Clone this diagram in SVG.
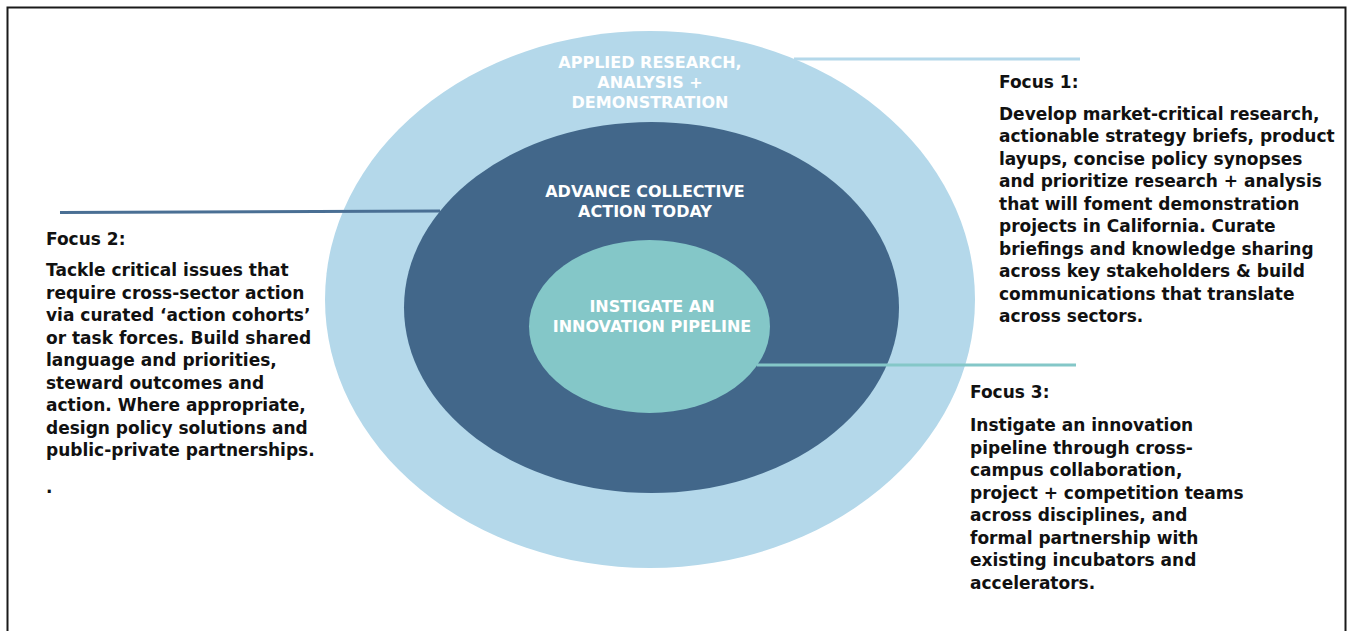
<svg xmlns="http://www.w3.org/2000/svg" width="1352" height="631" viewBox="0 0 1352 631">
<style>
.lbl{font-family:"DejaVu Sans","Liberation Sans",sans-serif;font-weight:bold;font-size:16px;fill:#ffffff;text-anchor:middle}
.body{font-family:"DejaVu Sans","Liberation Sans",sans-serif;font-weight:bold;font-size:17px;fill:#111111}
.conn{fill:none;stroke-width:3}
</style>
<rect width="1352" height="631" fill="#ffffff"/>
<path d="M7.5,640 V7.5 H1345.5 V640" fill="none" stroke="#1a1a1a" stroke-width="2"/>
<g id="outer-ring">
<ellipse cx="650" cy="299.5" rx="325" ry="268.5" fill="#b4d8ea"/>
<text class="lbl" x="650" y="68">APPLIED RESEARCH,</text>
<text class="lbl" x="650" y="88">ANALYSIS +</text>
<text class="lbl" x="650" y="108">DEMONSTRATION</text>
</g>
<g id="middle-ring">
<ellipse cx="651.5" cy="307.5" rx="247.5" ry="185.5" fill="#42678a"/>
<text class="lbl" x="645" y="197">ADVANCE COLLECTIVE</text>
<text class="lbl" x="645" y="217">ACTION TODAY</text>
</g>
<g id="inner-core">
<ellipse cx="649.5" cy="326.5" rx="120.5" ry="86.5" fill="#84c7c8"/>
<text class="lbl" x="652" y="312">INSTIGATE AN</text>
<text class="lbl" x="652" y="332">INNOVATION PIPELINE</text>
</g>
<g id="connectors">
<line class="conn" x1="794" y1="59" x2="1080" y2="59" stroke="#b4d8ea"/>
<line class="conn" x1="60" y1="212.5" x2="440" y2="211" stroke="#4a6f94"/>
<line class="conn" x1="757" y1="365" x2="1076" y2="365" stroke="#84c7c8"/>
</g>
<g id="focus1">
<text class="body" x="999" y="88">Focus 1:</text>
<text class="body" x="999" y="119.5">Develop market-critical research,</text>
<text class="body" x="999" y="142">actionable strategy briefs, product</text>
<text class="body" x="999" y="164.5">layups, concise policy synopses</text>
<text class="body" x="999" y="187">and prioritize research + analysis</text>
<text class="body" x="999" y="209.5">that will foment demonstration</text>
<text class="body" x="999" y="232">projects in California. Curate</text>
<text class="body" x="999" y="254.5">briefings and knowledge sharing</text>
<text class="body" x="999" y="277">across key stakeholders &amp; build</text>
<text class="body" x="999" y="299.5">communications that translate</text>
<text class="body" x="999" y="322">across sectors.</text>
</g>
<g id="focus2">
<text class="body" x="46" y="245">Focus 2:</text>
<text class="body" x="46" y="276">Tackle critical issues that</text>
<text class="body" x="46" y="298.5">require cross-sector action</text>
<text class="body" x="46" y="321">via curated ‘action cohorts’</text>
<text class="body" x="46" y="343.5">or task forces. Build shared</text>
<text class="body" x="46" y="366">language and priorities,</text>
<text class="body" x="46" y="388.5">steward outcomes and</text>
<text class="body" x="46" y="411">action. Where appropriate,</text>
<text class="body" x="46" y="433.5">design policy solutions and</text>
<text class="body" x="46" y="456">public-private partnerships.</text>
<text class="body" x="46" y="493">.</text>
</g>
<g id="focus3">
<text class="body" x="970" y="398">Focus 3:</text>
<text class="body" x="970" y="431">Instigate an innovation</text>
<text class="body" x="970" y="453.5">pipeline through cross-</text>
<text class="body" x="970" y="476">campus collaboration,</text>
<text class="body" x="970" y="498.5">project + competition teams</text>
<text class="body" x="970" y="521">across disciplines, and</text>
<text class="body" x="970" y="543.5">formal partnership with</text>
<text class="body" x="970" y="566">existing incubators and</text>
<text class="body" x="970" y="588.5">accelerators.</text>
</g>
</svg>
